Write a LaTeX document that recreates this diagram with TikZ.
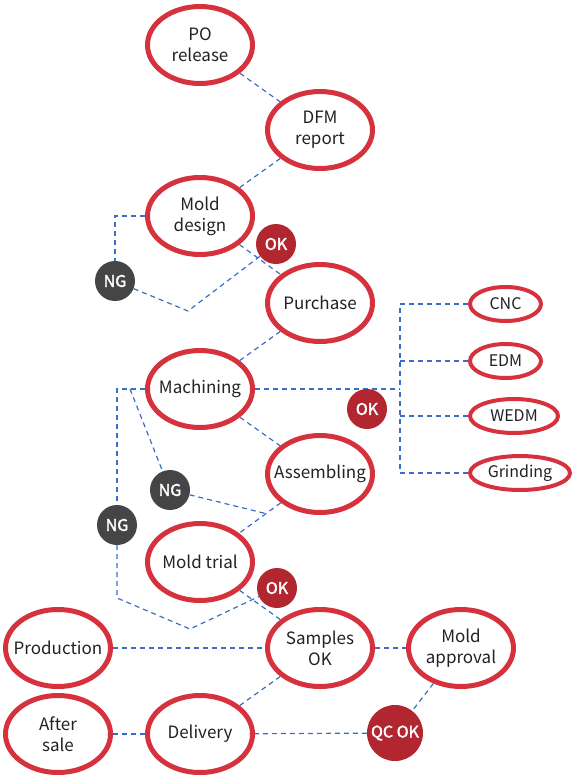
\documentclass[tikz,border=0pt]{standalone}
\usepackage{fontspec}
\setmainfont{Noto Sans CJK SC}
\newfontfamily\badgefont{Noto Sans CJK SC}[FakeBold=2]
\usetikzlibrary{shapes.geometric,backgrounds,calc}
\definecolor{ringred}{RGB}{214,50,62}
\definecolor{okred}{RGB}{178,38,48}
\definecolor{nggray}{RGB}{69,69,71}
\definecolor{linkblue}{RGB}{58,110,196}
\definecolor{inkdark}{RGB}{34,34,38}

\begin{document}
\begin{tikzpicture}[x=1pt,y=-1pt,
    stage/.style={ellipse,draw=ringred,line width=5pt,fill=white,
      minimum width=105pt,minimum height=77pt,inner sep=0pt,inner xsep=-15pt,
      align=center,text=inkdark,font=\fontsize{17}{21}\selectfont},
    tool/.style={ellipse,draw=ringred,line width=4pt,fill=white,
      minimum height=34pt,inner sep=0pt,inner xsep=-10pt,anchor=west,
      text=inkdark,font=\fontsize{16}{19}\selectfont},
    okbadge/.style={circle,fill=okred,minimum size=40pt,inner sep=0pt,
      text=white,font=\badgefont\fontsize{16}{19}\selectfont},
    ngbadge/.style={okbadge,fill=nggray},
    link/.style={draw=linkblue,line width=1.2pt,dash pattern=on 5pt off 4pt}]
  \useasboundingbox (0,0) rectangle (574,784);

  % main flow
  \node[stage] (po)       at (200,45)  {PO\\release};
  \node[stage] (dfm)      at (320,130) {DFM\\report};
  \node[stage] (design)   at (200,216) {Mold\\design};
  \node[stage] (purchase) at (320,303) {Purchase};
  \node[stage] (machining) at (200,389) {Machining};
  \node[stage] (assembling) at (320,474) {Assembling};
  \node[stage] (trial)    at (200,562) {Mold trial};
  \node[stage] (samples)  at (320,648) {Samples\\OK};
  \node[stage] (approval) at (461,648) {Mold\\approval};
  \node[stage] (production) at (58,648) {Production};
  \node[stage] (aftersale) at (58,734) {After\\sale};
  \node[stage] (delivery) at (200,734) {Delivery};

  % machining processes
  \node[tool,minimum width=71pt]  (cnc)   at (468,304) {CNC};
  \node[tool,minimum width=71pt]  (edm)   at (468,361) {EDM};
  \node[tool,minimum width=88pt]  (wedm)  at (468,416) {WEDM};
  \node[tool,minimum width=100pt] (grind) at (468,473) {Grinding};

  % checks
  \node[okbadge] (ok1) at (276,244) {OK};
  \node[okbadge] (ok2) at (367,409) {OK};
  \node[okbadge] (ok3) at (277,588) {OK};
  \node[okbadge,minimum size=56pt] (qcok) at (395,733) {QC OK};
  \node[ngbadge] (ng1) at (115,281) {NG};
  \node[ngbadge] (ng2) at (170,490) {NG};
  \node[ngbadge] (ng3) at (117,525) {NG};

  \coordinate (v1) at (188,311);
  \coordinate (bus) at (400,389);
  \coordinate (m1) at (130,389);
  \coordinate (v2) at ($(assembling)!0.45!(trial)$);
  \coordinate (v3) at (117,598);
  \coordinate (v4) at (190,629);

  \begin{scope}[on background layer]
    \draw[link] (po) -- (dfm);
    \draw[link] (dfm) -- (design);
    \draw[link] (design) -- (purchase);
    \draw[link] (design.west) -| (ng1);
    \draw[link] (ng1) -- (v1) -- (ok1);
    \draw[link] (purchase) -- (machining);
    \draw[link] (machining) -- (bus);
    \draw[link] (cnc.west) -| (bus);
    \draw[link] (grind.west) -| (bus);
    \draw[link] (edm.west) -- (edm.west -| bus);
    \draw[link] (wedm.west) -- (wedm.west -| bus);
    \draw[link] (machining) -- (assembling);
    \draw[link] (machining.west) -| (ng3);
    \draw[link] (m1) -- (ng2);
    \draw[link] (ng2) -- (v2);
    \draw[link] (assembling) -- (trial);
    \draw[link] (trial) -- (samples);
    \draw[link] (ng3) -- (v3) -- (v4) -- (ok3);
    \draw[link] (production) -- (samples);
    \draw[link] (samples) -- (approval);
    \draw[link] (approval) -- (qcok);
    \draw[link] (qcok) -- (delivery);
    \draw[link] (delivery) -- (samples);
    \draw[link] (aftersale) -- (delivery);
  \end{scope}
\end{tikzpicture}
\end{document}
